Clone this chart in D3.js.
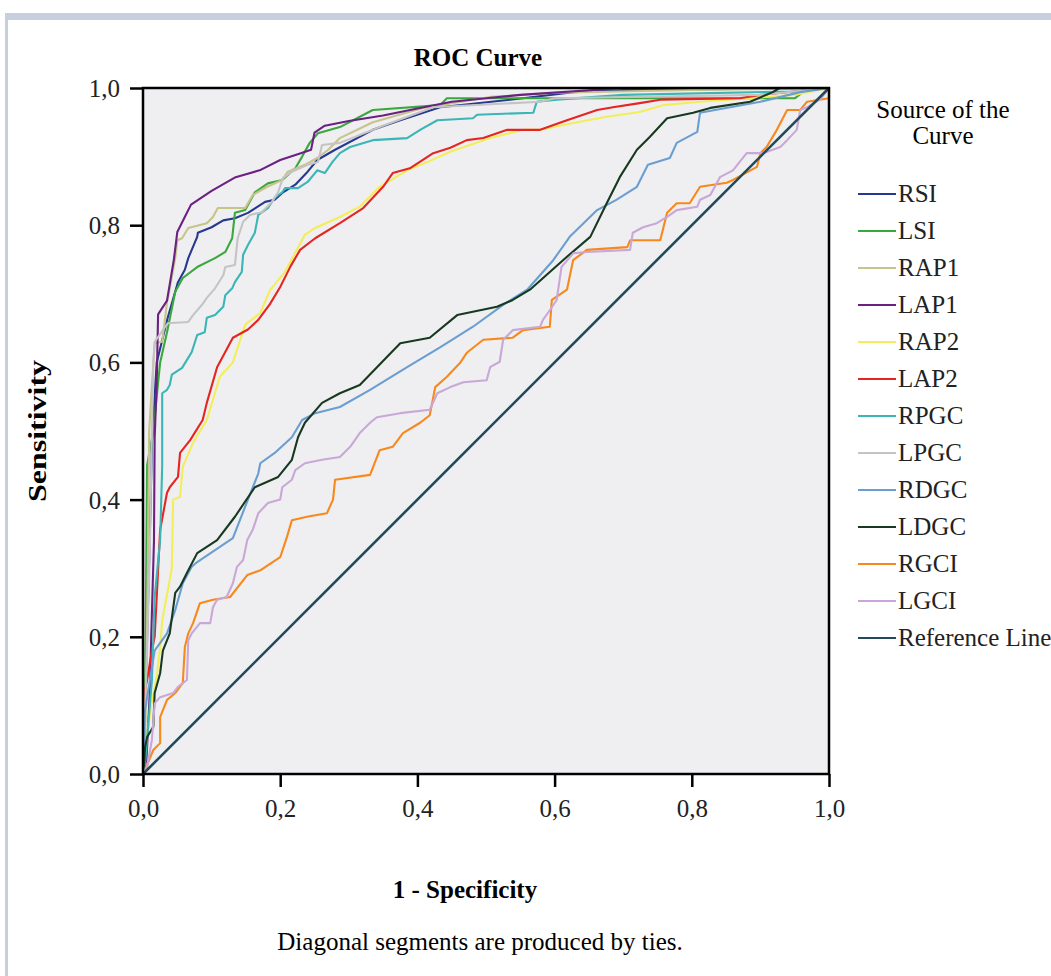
<!DOCTYPE html>
<html>
<head>
<meta charset="utf-8">
<script src="https://cdn.jsdelivr.net/npm/d3@7"></script>
<style>
  body { margin: 0; background: #fff; }
  svg { display: block; font-family: "Liberation Serif", "DejaVu Serif", serif; }
</style>
</head>
<body>
<svg id="svg" width="1051" height="976"></svg>
<script>
// ROC curves, values as [1 - specificity, sensitivity]
var rsi = [[0,0],[0.003,0.1],[0.006,0.2],[0.01,0.35],[0.013,0.48],[0.017,0.55],[0.02,0.6],[0.036,0.665],[0.051,0.717],[0.061,0.735],[0.066,0.752],[0.079,0.783],[0.08,0.789],[0.1,0.797],[0.117,0.807],[0.134,0.81],[0.153,0.818],[0.178,0.834],[0.192,0.837],[0.203,0.847],[0.222,0.859],[0.24,0.878],[0.254,0.895],[0.28,0.91],[0.335,0.939],[0.375,0.953],[0.433,0.972],[0.554,0.985],[0.627,0.994],[0.7,0.997],[1,1]];
var lsi = [[0,0],[0.003,0.1],[0.005,0.33],[0.006,0.45],[0.015,0.5],[0.02,0.55],[0.025,0.6],[0.035,0.644],[0.047,0.703],[0.058,0.723],[0.079,0.739],[0.105,0.752],[0.12,0.761],[0.13,0.781],[0.134,0.818],[0.149,0.822],[0.163,0.848],[0.182,0.861],[0.203,0.866],[0.222,0.883],[0.232,0.9],[0.243,0.92],[0.255,0.934],[0.287,0.943],[0.335,0.968],[0.433,0.975],[0.443,0.985],[0.95,0.985],[0.97,1],[1,1]];
var rap1 = [[0,0],[0.003,0.05],[0.005,0.15],[0.007,0.3],[0.009,0.5],[0.012,0.55],[0.017,0.628],[0.028,0.63],[0.035,0.688],[0.039,0.708],[0.047,0.752],[0.05,0.778],[0.057,0.781],[0.066,0.796],[0.093,0.803],[0.102,0.812],[0.109,0.825],[0.149,0.825],[0.16,0.844],[0.181,0.856],[0.203,0.866],[0.211,0.878],[0.236,0.888],[0.254,0.898],[0.27,0.91],[0.287,0.927],[0.335,0.95],[0.408,0.971],[0.506,0.987],[0.603,0.993],[0.8,0.997],[1,1]];
var lap1 = [[0,0],[0.005,0.02],[0.01,0.12],[0.012,0.2],[0.016,0.34],[0.017,0.49],[0.02,0.57],[0.022,0.67],[0.035,0.69],[0.04,0.72],[0.045,0.75],[0.05,0.79],[0.06,0.81],[0.07,0.83],[0.1,0.85],[0.135,0.87],[0.17,0.88],[0.2,0.895],[0.23,0.905],[0.245,0.91],[0.25,0.935],[0.265,0.945],[0.3,0.952],[0.35,0.96],[0.4,0.97],[0.45,0.98],[0.5,0.985],[0.55,0.99],[0.7,1],[1,1]];
var rap2 = [[0,0],[0.005,0.05],[0.012,0.1],[0.02,0.141],[0.025,0.185],[0.028,0.224],[0.039,0.283],[0.042,0.3],[0.044,0.4],[0.054,0.404],[0.058,0.448],[0.073,0.483],[0.093,0.516],[0.112,0.579],[0.131,0.6],[0.149,0.655],[0.171,0.672],[0.185,0.705],[0.207,0.732],[0.236,0.786],[0.251,0.796],[0.287,0.812],[0.316,0.827],[0.345,0.856],[0.385,0.88],[0.414,0.892],[0.448,0.907],[0.506,0.927],[0.554,0.939],[0.579,0.939],[0.627,0.949],[0.676,0.958],[0.724,0.965],[0.758,0.975],[0.812,0.98],[0.95,0.99],[1,1]];
var lap2 = [[0,0],[0.002,0.12],[0.006,0.137],[0.013,0.18],[0.017,0.2],[0.02,0.258],[0.025,0.356],[0.035,0.41],[0.039,0.418],[0.051,0.433],[0.054,0.468],[0.069,0.487],[0.087,0.516],[0.093,0.541],[0.108,0.593],[0.131,0.636],[0.153,0.648],[0.168,0.662],[0.185,0.685],[0.2,0.71],[0.215,0.74],[0.229,0.764],[0.251,0.781],[0.287,0.803],[0.321,0.825],[0.35,0.856],[0.364,0.876],[0.389,0.883],[0.423,0.905],[0.448,0.913],[0.472,0.924],[0.496,0.927],[0.531,0.939],[0.579,0.939],[0.618,0.953],[0.662,0.968],[0.685,0.972],[0.724,0.978],[0.754,0.983],[0.87,0.985],[0.9,0.99],[1,1]];
var rpgc = [[0,0],[0.003,0.016],[0.007,0.064],[0.013,0.137],[0.017,0.258],[0.025,0.341],[0.028,0.45],[0.028,0.555],[0.035,0.56],[0.039,0.567],[0.042,0.582],[0.057,0.592],[0.071,0.615],[0.079,0.64],[0.09,0.644],[0.093,0.665],[0.105,0.669],[0.117,0.681],[0.12,0.698],[0.13,0.708],[0.134,0.717],[0.144,0.732],[0.146,0.757],[0.153,0.771],[0.163,0.789],[0.168,0.815],[0.182,0.825],[0.192,0.84],[0.203,0.848],[0.207,0.854],[0.226,0.854],[0.24,0.863],[0.254,0.88],[0.265,0.876],[0.276,0.892],[0.287,0.905],[0.302,0.914],[0.335,0.924],[0.385,0.927],[0.404,0.939],[0.429,0.953],[0.481,0.956],[0.487,0.961],[0.569,0.964],[0.574,0.98],[0.603,0.983],[0.7,0.99],[0.95,0.995],[1,1]];
var lpgc = [[0,0],[0.003,0.1],[0.006,0.18],[0.01,0.33],[0.013,0.5],[0.015,0.6],[0.017,0.63],[0.036,0.657],[0.066,0.659],[0.073,0.669],[0.086,0.684],[0.093,0.694],[0.105,0.708],[0.117,0.727],[0.12,0.739],[0.134,0.742],[0.138,0.781],[0.146,0.805],[0.156,0.815],[0.173,0.819],[0.188,0.834],[0.197,0.848],[0.204,0.869],[0.217,0.878],[0.24,0.888],[0.255,0.892],[0.261,0.917],[0.287,0.92],[0.35,0.945],[0.423,0.972],[0.579,0.98],[0.6,0.985],[0.9,0.99],[1,1]];
var rdgc = [[0,0],[0.002,0.06],[0.003,0.093],[0.007,0.118],[0.017,0.18],[0.035,0.205],[0.047,0.239],[0.058,0.278],[0.071,0.302],[0.079,0.309],[0.131,0.344],[0.153,0.4],[0.168,0.438],[0.171,0.453],[0.192,0.468],[0.217,0.491],[0.232,0.516],[0.251,0.526],[0.287,0.535],[0.331,0.56],[0.385,0.593],[0.433,0.622],[0.481,0.652],[0.525,0.684],[0.56,0.706],[0.598,0.749],[0.622,0.783],[0.662,0.822],[0.69,0.837],[0.72,0.856],[0.736,0.888],[0.768,0.898],[0.778,0.92],[0.808,0.936],[0.812,0.964],[0.9,0.98],[0.958,0.994],[1,1]];
var ldgc = [[0,0],[0.002,0.02],[0.003,0.039],[0.006,0.054],[0.015,0.069],[0.017,0.118],[0.025,0.147],[0.029,0.18],[0.039,0.205],[0.047,0.264],[0.054,0.273],[0.064,0.293],[0.079,0.322],[0.108,0.341],[0.134,0.375],[0.163,0.418],[0.197,0.433],[0.217,0.458],[0.226,0.491],[0.236,0.512],[0.261,0.541],[0.287,0.555],[0.316,0.567],[0.375,0.628],[0.418,0.636],[0.458,0.669],[0.516,0.681],[0.539,0.691],[0.564,0.706],[0.618,0.754],[0.652,0.783],[0.676,0.832],[0.695,0.87],[0.72,0.91],[0.739,0.929],[0.764,0.956],[0.802,0.964],[0.827,0.971],[0.885,0.98],[0.918,0.994],[0.928,1],[1,1]];
var rgci = [[0,0],[0.003,0.006],[0.015,0.035],[0.025,0.045],[0.025,0.083],[0.035,0.108],[0.047,0.118],[0.058,0.133],[0.061,0.185],[0.066,0.205],[0.073,0.22],[0.083,0.249],[0.102,0.254],[0.127,0.258],[0.152,0.29],[0.171,0.297],[0.2,0.316],[0.21,0.346],[0.217,0.37],[0.239,0.375],[0.268,0.38],[0.277,0.4],[0.28,0.429],[0.331,0.436],[0.345,0.472],[0.364,0.477],[0.379,0.497],[0.404,0.512],[0.418,0.523],[0.426,0.564],[0.443,0.579],[0.462,0.599],[0.472,0.614],[0.496,0.633],[0.539,0.636],[0.554,0.647],[0.593,0.652],[0.596,0.691],[0.618,0.706],[0.627,0.749],[0.647,0.764],[0.706,0.768],[0.71,0.778],[0.754,0.778],[0.764,0.818],[0.778,0.832],[0.797,0.832],[0.812,0.856],[0.851,0.862],[0.86,0.866],[0.895,0.885],[0.9,0.905],[0.909,0.914],[0.924,0.939],[0.939,0.968],[0.958,0.968],[0.968,0.98],[1,0.985],[1,1]];
var lgci = [[0,0],[0.006,0.01],[0.013,0.05],[0.017,0.103],[0.025,0.112],[0.044,0.118],[0.051,0.127],[0.064,0.137],[0.066,0.195],[0.071,0.205],[0.083,0.22],[0.098,0.22],[0.102,0.243],[0.108,0.254],[0.122,0.258],[0.131,0.278],[0.137,0.302],[0.146,0.312],[0.152,0.341],[0.16,0.356],[0.168,0.38],[0.182,0.395],[0.2,0.4],[0.203,0.418],[0.217,0.429],[0.222,0.443],[0.236,0.453],[0.261,0.458],[0.287,0.462],[0.302,0.477],[0.316,0.497],[0.331,0.512],[0.341,0.52],[0.375,0.526],[0.418,0.531],[0.429,0.555],[0.448,0.564],[0.467,0.571],[0.501,0.574],[0.506,0.593],[0.52,0.601],[0.525,0.633],[0.539,0.647],[0.579,0.652],[0.583,0.662],[0.593,0.676],[0.603,0.691],[0.61,0.739],[0.627,0.759],[0.647,0.761],[0.71,0.764],[0.714,0.789],[0.729,0.797],[0.749,0.803],[0.764,0.812],[0.778,0.822],[0.808,0.827],[0.812,0.837],[0.827,0.844],[0.841,0.87],[0.86,0.88],[0.88,0.905],[0.904,0.905],[0.929,0.914],[0.939,0.924],[0.953,0.939],[0.958,0.968],[0.968,0.972],[0.987,0.983],[1,1]];
var refLine = [[0,0],[1,1]];

var seriesNames = ["RSI","LSI","RAP1","LAP1","RAP2","LAP2","RPGC","LPGC","RDGC","LDGC","RGCI","LGCI","Reference Line"];
var seriesData = [rsi, lsi, rap1, lap1, rap2, lap2, rpgc, lpgc, rdgc, ldgc, rgci, lgci, refLine];
var colorList = ["#27398e","#3aa83e","#c6c48a","#6b2180","#f2ee5a","#e52521","#3bb5b5","#c4c4c4","#6b9ed0","#17391f","#f7891c","#c9a7d6","#214a5c"];
var tickValues = [0, 0.2, 0.4, 0.6, 0.8, 1.0];

var svg = d3.select("#svg");

// page frame strips
svg.append("rect").attr("x", 5).attr("y", 13).attr("width", 1046).attr("height", 7).attr("fill", "#c7cedd");
svg.append("rect").attr("x", 5).attr("y", 13).attr("width", 3).attr("height", 963).attr("fill", "#c7cedd");

var plotL = 143, plotR = 829, plotT = 88, plotB = 774;
var x = d3.scaleLinear().domain([0, 1]).range([plotL, plotR]);
var y = d3.scaleLinear().domain([0, 1]).range([plotB, plotT]);

svg.append("rect")
    .attr("x", plotL).attr("y", plotT)
    .attr("width", plotR - plotL).attr("height", plotB - plotT)
    .attr("fill", "#efeff2");

var fmt = function(d){ return d3.format(".1f")(d).replace(".", ","); };

var xAxis = svg.append("g")
    .attr("transform", "translate(0," + plotB + ")")
    .call(d3.axisBottom(x).tickValues(tickValues).tickSize(13).tickFormat(fmt));
var yAxis = svg.append("g")
    .attr("transform", "translate(" + plotL + ",0)")
    .call(d3.axisLeft(y).tickValues(tickValues).tickSize(13).tickPadding(10).tickFormat(fmt));

[xAxis, yAxis].forEach(function(a){
    a.select(".domain").remove();
    a.selectAll("line").attr("stroke", "#000").attr("stroke-width", 2.5);
    a.selectAll("text")
        .style("font-family", "Liberation Serif")
        .style("font-size", "25px")
        .attr("fill", "#222");
});
yAxis.selectAll("text").attr("dy", "0.34em");
xAxis.selectAll("text").attr("y", 43).attr("dy", 0);

var line = d3.line()
    .x(function(d){ return x(d[0]); })
    .y(function(d){ return y(d[1]); });

var g = svg.append("g");
for (let i = 0; i < seriesData.length; i++){
    g.append("path")
        .attr("d", line(seriesData[i]))
        .attr("fill", "none")
        .attr("stroke", colorList[i])
        .attr("stroke-width", i == seriesData.length - 1 ? 2.6 : 2.1)
        .attr("stroke-linejoin", "round");
}

// frame
svg.append("rect")
    .attr("x", plotL).attr("y", plotT)
    .attr("width", plotR - plotL).attr("height", plotB - plotT)
    .attr("fill", "none").attr("stroke", "#000").attr("stroke-width", 2.5);

// titles
svg.append("text")
    .attr("x", 478).attr("y", 66)
    .attr("text-anchor", "middle")
    .style("font-size", "25px").style("font-weight", "bold")
    .text("ROC Curve");

svg.append("text")
    .attr("transform", "translate(46,431) rotate(-90)")
    .attr("text-anchor", "middle")
    .attr("textLength", 142)
    .attr("lengthAdjust", "spacingAndGlyphs")
    .style("font-size", "25px").style("font-weight", "bold")
    .text("Sensitivity");

svg.append("text")
    .attr("x", 465).attr("y", 898)
    .attr("text-anchor", "middle")
    .style("font-size", "25px").style("font-weight", "bold")
    .text("1 - Specificity");

svg.append("text")
    .attr("x", 480).attr("y", 950)
    .attr("text-anchor", "middle")
    .style("font-size", "25px")
    .text("Diagonal segments are produced by ties.");

// legend
svg.append("text")
    .attr("x", 943).attr("y", 118)
    .attr("text-anchor", "middle")
    .style("font-size", "25px")
    .text("Source of the");
svg.append("text")
    .attr("x", 943).attr("y", 144)
    .attr("text-anchor", "middle")
    .style("font-size", "25px")
    .text("Curve");

var legend = svg.append("g");
for (let i = 0; i < seriesNames.length; i++){
    var ly = 192 + i * 37;
    legend.append("line")
        .attr("x1", 858).attr("x2", 896)
        .attr("y1", ly + 2).attr("y2", ly + 2)
        .attr("stroke", colorList[i]).attr("stroke-width", 2.2);
    legend.append("text")
        .attr("x", 898).attr("y", ly)
        .attr("dy", "0.38em")
        .style("font-size", "25px")
        .attr("fill", "#222")
        .text(seriesNames[i]);
}
</script>
</body>
</html>
